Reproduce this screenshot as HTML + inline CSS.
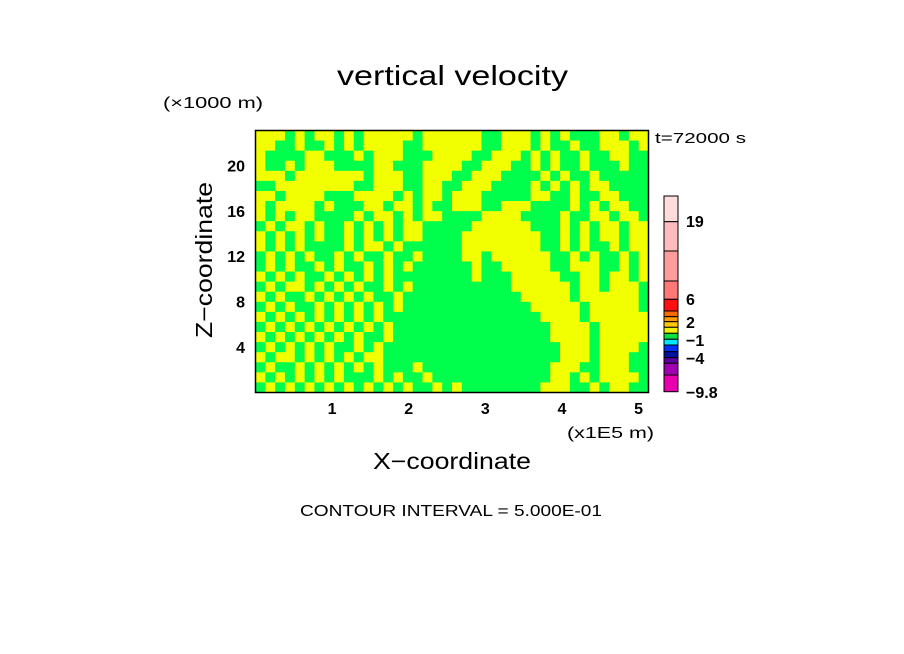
<!DOCTYPE html>
<html><head><meta charset="utf-8"><style>
html,body{margin:0;padding:0;background:#fff;}
svg{display:block;font-family:"Liberation Sans","DejaVu Sans",sans-serif;}
</style></head><body>
<svg id="chart" width="904" height="654" viewBox="0 0 904 654">
<rect width="904" height="654" fill="#fff"/>
<text x="337" y="85" font-size="28" textLength="231" lengthAdjust="spacingAndGlyphs">vertical velocity</text>
<text x="163" y="108" font-size="16" textLength="100" lengthAdjust="spacingAndGlyphs">(×1000 m)</text>
<text x="655" y="143" font-size="15" textLength="91" lengthAdjust="spacingAndGlyphs">t=72000 s</text>
<g id="field"></g>
<rect x="255.5" y="130.5" width="393" height="262" fill="none" stroke="#000" stroke-width="1.5"/>
<g id="xt"></g>
<g id="yt"></g>
<text x="567" y="438" font-size="16" textLength="87" lengthAdjust="spacingAndGlyphs">(x1E5 m)</text>
<text x="373" y="469" font-size="23" textLength="158" lengthAdjust="spacingAndGlyphs">X−coordinate</text>
<text transform="translate(212,338) rotate(-90)" font-size="23" textLength="156" lengthAdjust="spacingAndGlyphs">Z−coordinate</text>
<text x="300" y="516" font-size="16" textLength="302" lengthAdjust="spacingAndGlyphs">CONTOUR INTERVAL = 5.000E-01</text>
<g id="cbar"></g>
</svg>
<script>
const xTicks=[1,2,3,4,5];
const yTicks=[4,8,12,16,20];
const xMax=5.13, yMax=23.07;
// 1 = yellow band, 0 = green band (rows top to bottom)
const fieldRows=[
"1110101101011111011111100111010100011011",
"1100100101011110011111100111010010011101",
"1000011000101110001111001110101001001100",
"1001011100001100011110011100101001000100",
"1110111111101110011100111000010100100000",
"0011111111001110011001110000101010110000",
"1101111000111101011011100000110010011000",
"1011110100011011010011100111000010101100",
"1010110000101101011000011110000100110110",
"0101101001010101100000111111000101011011",
"1010101001010101100001111111100101011011",
"1010100001011010000001111111100101001011",
"0101010010100100100001101111110010100101",
"0101001010010101000000100111110011100101",
"1010100101010100000000100011111001101101",
"0101101010100101000000000011111101101110",
"1010010101010010000000000001111101111110",
"0101001010101010000000000000111110111110",
"1010101010101000000000000000011110111111",
"0101010101010100000000000000001111011111",
"1010101010100100000000000000001111011111",
"0101010100101000000000000000000111011110",
"1011010101011000000000000000000111011100",
"0100101010101000100000000000001110011100",
"1010101010001010010000000000001101011110",
"0101010101010101001010000000011100101100"];
const cbColors=["#ffdcdc","#ffbcbc","#ff9c9c","#ff7878","#ff1010","#ff6a00","#ff9a00","#ffc800","#f0f000","#00e040","#00e8ff","#0030ff","#0010a0","#6000a0","#a000b0","#e800b0"];
const cbEdges=[196,221.7,251,281,299.3,311,316.7,321.7,327.3,333.3,339.3,345,351.7,357.7,363.3,375,391.7];
const cbLabels=["19","6","2","−1","−4","−9.8"];
const cbLabelY=[221,299,322,340,358,392];

const X0=255.5,X1=648.5,Y0=392.5,Y1=130.5;
const sx=v=>X0+v/xMax*(X1-X0);
const sy=v=>Y0-v/yMax*(Y0-Y1);
const NS="http://www.w3.org/2000/svg";
function mk(t,a){const e=document.createElementNS(NS,t);for(const k in a)e.setAttribute(k,a[k]);return e;}
const field=document.getElementById('field');
const nr=fieldRows.length,nc=fieldRows[0].length;
const cw=(X1-X0)/nc,ch=(Y0-Y1)/nr;
fieldRows.forEach((row,r)=>{for(let c=0;c<nc;c++){
 const e=mk('rect',{x:X0+c*cw,y:Y1+r*ch,width:cw+0.4,height:ch+0.4,fill:row[c]==='1'?'#f2ff00':'#00ff4c'});
 
 
 field.appendChild(e);}});
const xt=document.getElementById('xt');
xTicks.forEach(v=>{const e=mk('text',{x:sx(v),y:414,'font-size':16,'font-weight':'bold','text-anchor':'middle'});e.textContent=v;
 
 
 xt.appendChild(e);});
const yt=document.getElementById('yt');
yTicks.forEach(v=>{const e=mk('text',{x:245,y:sy(v)+6,'font-size':16,'font-weight':'bold','text-anchor':'end'});e.textContent=v;
 
 
 yt.appendChild(e);});
const cb=document.getElementById('cbar');
cbColors.forEach((col,i)=>{const e=mk('rect',{x:664,y:cbEdges[i],width:14,height:cbEdges[i+1]-cbEdges[i],fill:col,stroke:'#000','stroke-width':1});
 
 
 cb.appendChild(e);});
cbLabels.forEach((l,i)=>{const e=mk('text',{x:686,y:cbLabelY[i]+6,'font-size':16,'font-weight':'bold'});e.textContent=l;
 
 
 cb.appendChild(e);});
</script>
</body></html>
